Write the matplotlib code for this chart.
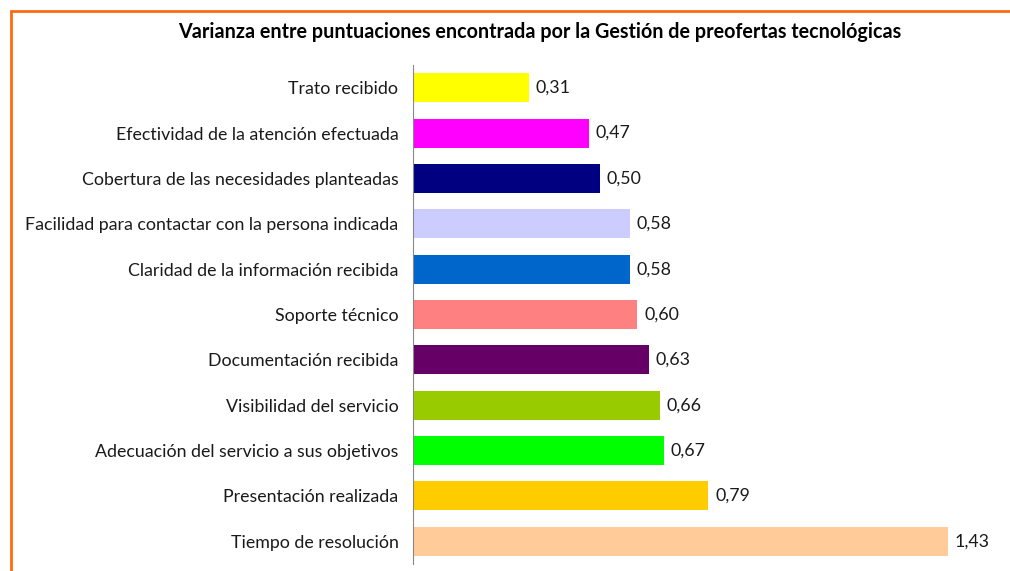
import matplotlib.pyplot as plt
from matplotlib.patches import Rectangle

categorias = [
    "Trato recibido",
    "Efectividad de la atención efectuada",
    "Cobertura de las necesidades planteadas",
    "Facilidad para contactar con la persona indicada",
    "Claridad de la información recibida",
    "Soporte técnico",
    "Documentación recibida",
    "Visibilidad del servicio",
    "Adecuación del servicio a sus objetivos",
    "Presentación realizada",
    "Tiempo de resolución",
]
varianza = [0.31, 0.47, 0.50, 0.58, 0.58, 0.60, 0.63, 0.66, 0.67, 0.79, 1.43]
colores = ["#FFFF00", "#FF00FF", "#000080", "#CCCCFF", "#0066CC", "#FF8080",
           "#660066", "#99CC00", "#00FF00", "#FFCC00", "#FFCC99"]

plt.rcParams['font.family'] = ['Lato', 'DejaVu Sans']

fig = plt.figure(figsize=(10.1, 5.71), dpi=100)
W, H = 1010, 571
# axes placed in pixel terms: left edge at 413, top 65, bottom 564
ax = fig.add_axes([413 / W, 1 - 564 / H, (W - 413) / W, (564 - 65) / H])

y = list(range(len(categorias)))
ax.barh(y, varianza, height=0.64, color=colores)
ax.set_ylim(len(categorias) - 0.5, -0.5)
ax.set_xlim(0, (W - 413) / 374)

ax.set_yticks(y)
ax.set_yticklabels(categorias, fontsize=12.8, color="#1a1a1a")
ax.tick_params(axis='y', length=0, pad=10.5)
ax.set_xticks([])
for s in ["top", "right", "bottom"]:
    ax.spines[s].set_visible(False)
ax.spines["left"].set_color("#888888")

for yi, v in zip(y, varianza):
    ax.text(v + 0.018, yi, f"{v:.2f}".replace(".", ","), va="center", ha="left",
            fontsize=12.8, color="#1a1a1a")

fig.text(540 / W, 1 - 32 / H,
         "Varianza entre puntuaciones encontrada por la Gestión de preofertas tecnológicas",
         ha="center", va="center", fontsize=14.2, fontweight="bold")

fig.patches.append(Rectangle((10.5 / W, -0.1), 1.2, 1 - 10.5 / H + 0.1,
                             transform=fig.transFigure, fill=False,
                             edgecolor="#FF6A10", linewidth=2))

fig.savefig("out.png", dpi=100)
